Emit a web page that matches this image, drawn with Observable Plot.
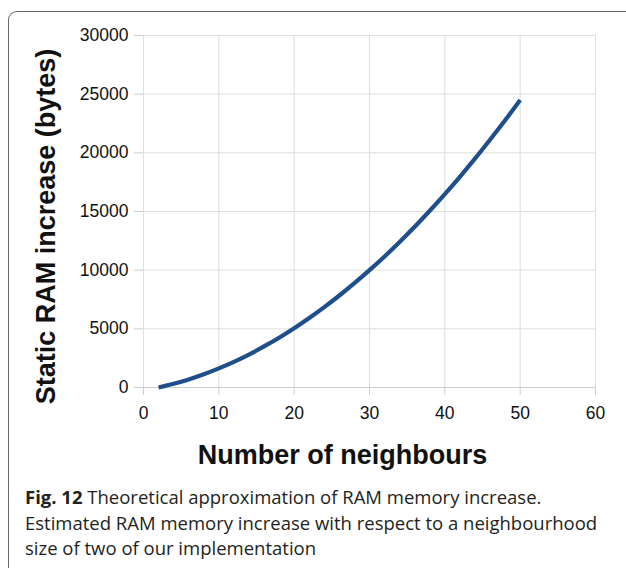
<!DOCTYPE html>
<html>
<head>
<meta charset="utf-8">
<script src="https://cdn.jsdelivr.net/npm/d3@7"></script>
<script src="https://cdn.jsdelivr.net/npm/@observablehq/plot@0.6"></script>
<style>
  html, body { margin: 0; padding: 0; background: #fff; }
  #wrap { position: relative; width: 626px; height: 568px; overflow: hidden; background: #fff; }
  #chart { position: absolute; left: 0; top: 0; }
  #border { position: absolute; left: 8px; top: 11px; width: 700px; height: 700px;
            border-left: 1.5px solid #6a6a6a; border-top: 1.5px solid #6a6a6a;
            border-top-left-radius: 9px; box-sizing: border-box; pointer-events: none; }
  #caption { position: absolute; left: 25px; top: 484px; width: 600px;
             font-family: "Open Sans", "Noto Sans", sans-serif; font-size: 18.5px;
             line-height: 25.5px; color: #231f20; letter-spacing: 0px; white-space: nowrap; }
  #caption b { font-weight: 700; }
</style>
</head>
<body>
<div id="wrap">
  <div id="chart"></div>
  <div id="border"></div>
  <div id="caption"><b>Fig. 12</b> Theoretical approximation of RAM memory increase.<br>Estimated RAM memory increase with respect to a neighbourhood<br>size of two of our implementation</div>
</div>
<script>
// Number of neighbours (x) and estimated static RAM increase in bytes (y)
const neighbours = [2, 4, 6, 8, 10, 12, 14, 16, 18, 20, 22, 24, 26, 28, 30, 32, 34, 36, 38, 40, 42, 44, 46, 48, 50];
const ramIncrease = [0, 320, 690, 1130, 1630, 2190, 2810, 3500, 4240, 5050, 5920, 6850, 7840, 8890, 10000, 11170, 12410, 13700, 15060, 16480, 17960, 19500, 21110, 22770, 24500];
const xTicks = [0, 10, 20, 30, 40, 50, 60];
const yTicks = [0, 5000, 10000, 15000, 20000, 25000, 30000];
const xTitle = "Number of neighbours";
const yTitle = "Static RAM increase (bytes)";

const data = neighbours.map((x, i) => ({x, y: ramIncrease[i]}));

const chart = Plot.plot({
  width: 626,
  height: 470,
  marginLeft: 143,
  marginRight: 31,
  marginTop: 35,
  marginBottom: 83,
  x: {domain: [0, 60]},
  y: {domain: [0, 30000]},
  style: {fontFamily: "'Liberation Sans', Arial, sans-serif", fontSize: "17.5px", background: "transparent", color: "#111", overflow: "visible"},
  marks: [
    Plot.gridX(xTicks, {stroke: "#dedede", strokeOpacity: 1, strokeWidth: 1}),
    Plot.gridY(yTicks, {stroke: "#dedede", strokeOpacity: 1, strokeWidth: 1}),
    Plot.frame({stroke: "#dedede"}),
    Plot.ruleY([0], {stroke: "#cdcdcd"}),
    Plot.axisX(xTicks, {tickSize: 8, tickPadding: 11, stroke: "#cdcdcd", fill: "#111", tickFormat: "d", label: null}),
    Plot.axisY(yTicks, {tickSize: 9, tickPadding: 6, stroke: "#cdcdcd", fill: "#111", tickFormat: "d", label: null}),
    Plot.line(data, {x: "x", y: "y", stroke: "#1f4e8c", strokeWidth: 4.2, strokeLinecap: "butt", curve: "catmull-rom"}),
    Plot.text([xTitle], {text: d => d, frameAnchor: "bottom", dx: -27, dy: 68, fontSize: 27, fontWeight: "bold", textAnchor: "middle", lineAnchor: "middle", fill: "#111"}),
    Plot.text([yTitle], {text: d => d, frameAnchor: "left", rotate: -90, dx: -97, dy: 15, fontSize: 27, fontWeight: "bold", textAnchor: "middle", lineAnchor: "middle", fill: "#111"})
  ]
});
document.getElementById("chart").appendChild(chart);
</script>
</body>
</html>
